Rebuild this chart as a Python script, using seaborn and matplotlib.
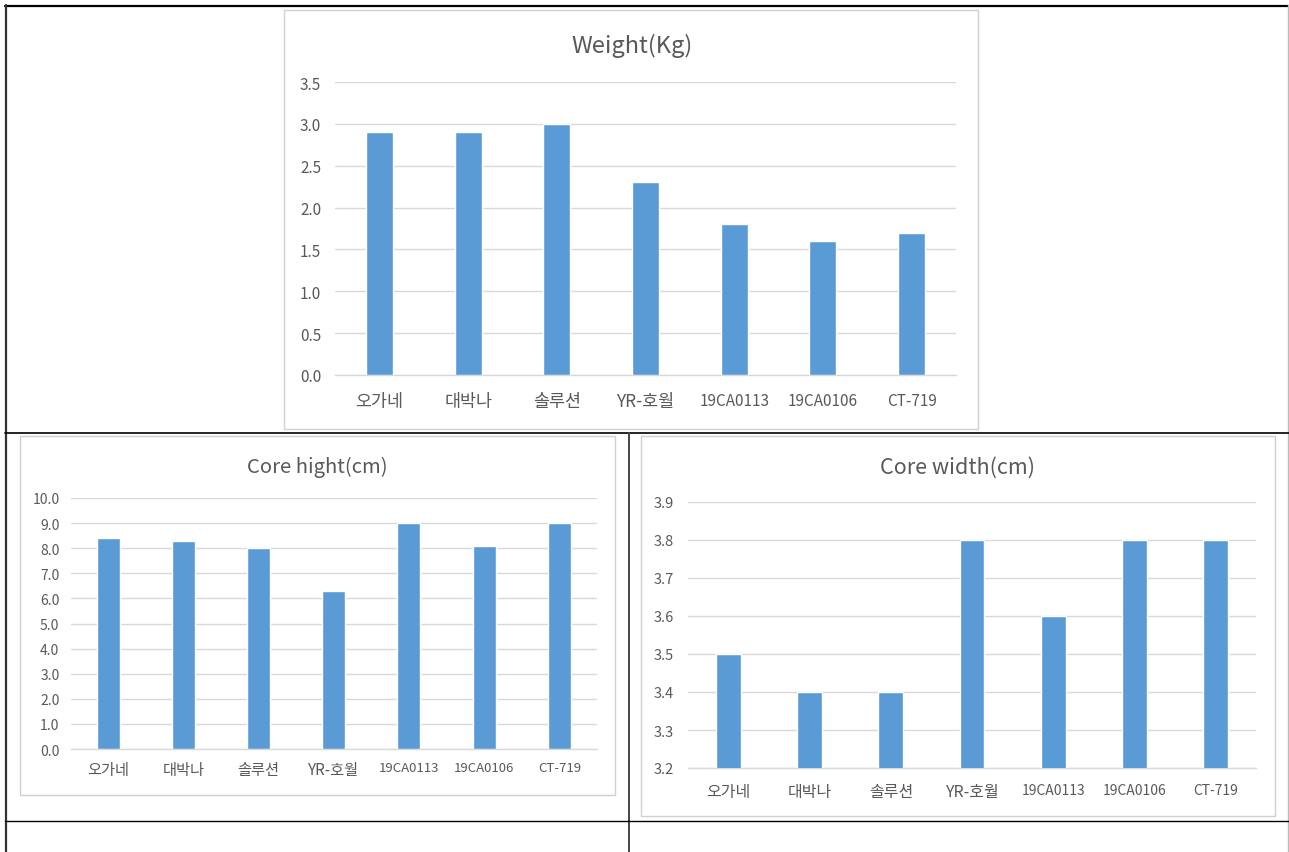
import matplotlib
matplotlib.use("Agg")
import matplotlib.pyplot as plt
from matplotlib.lines import Line2D
from matplotlib.patches import Rectangle
import seaborn as sns
import pandas as pd

# Data
varieties = ["오가네", "대박나", "솔루션", "YR-호월", "19CA0113", "19CA0106", "CT-719"]
weight_kg = [2.9, 2.9, 3.0, 2.3, 1.8, 1.6, 1.7]
core_height_cm = [8.4, 8.3, 8.0, 6.3, 9.0, 8.1, 9.0]
core_width_cm = [3.5, 3.4, 3.4, 3.8, 3.6, 3.8, 3.8]

weight_ticks = [0.0, 0.5, 1.0, 1.5, 2.0, 2.5, 3.0, 3.5]
height_ticks = [0.0, 1.0, 2.0, 3.0, 4.0, 5.0, 6.0, 7.0, 8.0, 9.0, 10.0]
width_ticks = [3.2, 3.3, 3.4, 3.5, 3.6, 3.7, 3.8, 3.9]

sns.set_theme(style="white")
plt.rcParams["font.family"] = ["Noto Sans CJK KR", "DejaVu Sans"]

W, H = 1289, 853
fig = plt.figure(figsize=(W / 100, H / 100), dpi=100)
fig.patch.set_facecolor("white")

BAR = "#5B9BD5"
GRID = "#D9D9D9"
TEXT = "#595959"


def px_rect(x0, y0, x1, y1):
    return [x0 / W, 1 - y1 / H, (x1 - x0) / W, (y1 - y0) / H]


def frame(x0, y0, x1, y1):
    fig.add_artist(Rectangle((x0 / W, 1 - y1 / H), (x1 - x0) / W, (y1 - y0) / H,
                             transform=fig.transFigure, facecolor="white",
                             edgecolor="#D0D0D0", lw=1.0, zorder=0))


def hline(y, x0, x1, color="black", lw=1.2):
    fig.add_artist(Line2D([x0 / W, x1 / W], [1 - y / H, 1 - y / H],
                          transform=fig.transFigure, color=color, lw=lw))


def vline(x, y0, y1, color="black", lw=1.2):
    fig.add_artist(Line2D([x / W, x / W], [1 - y0 / H, 1 - y1 / H],
                          transform=fig.transFigure, color=color, lw=lw))


def has_hangul(s):
    return any("\uac00" <= ch <= "\ud7a3" for ch in s)


def bar_panel(box, values, ticks, title, title_xy, title_size,
              latin_size, hangul_size, ytick_size, xpad, ypad):
    ax = fig.add_axes(px_rect(*box))
    ax.set_facecolor("none")
    df = pd.DataFrame({"variety": varieties, "value": values})
    sns.barplot(data=df, x="variety", y="value", color=BAR, saturation=1,
                width=0.305, ax=ax, zorder=3)
    ax.set_ylim(ticks[0], ticks[-1])
    ax.set_xlim(-0.5, len(varieties) - 0.5)
    ax.set_yticks(ticks)
    ax.set_yticklabels([f"{t:.1f}" for t in ticks])
    ax.yaxis.grid(True, color=GRID, lw=1.0, zorder=0)
    ax.xaxis.grid(False)
    for s in ("top", "right", "left"):
        ax.spines[s].set_visible(False)
    ax.spines["bottom"].set_color(GRID)
    ax.spines["bottom"].set_linewidth(1.0)
    ax.tick_params(axis="both", length=0, colors=TEXT)
    ax.tick_params(axis="x", pad=xpad)
    ax.tick_params(axis="y", pad=ypad, labelsize=ytick_size)
    for lab in ax.get_xticklabels():
        lab.set_fontsize(hangul_size if has_hangul(lab.get_text()) else latin_size)
    ax.set_xlabel("")
    ax.set_ylabel("")
    fig.text(title_xy[0] / W, 1 - title_xy[1] / H, title, ha="center",
             va="center", fontsize=title_size, color=TEXT)
    return ax


# Table grid lines
hline(6.5, 5, 1289, lw=1.6)
vline(5.5, 6, 853, color="#333333", lw=1.6)
vline(1288, 6, 853, color="#BBBBBB", lw=1.0)
hline(434, 5, 1289, lw=1.2)
vline(628.5, 434, 853, color="#444444", lw=1.4)
hline(822, 5, 1289, lw=1.0)

# Chart frames
frame(284, 11, 978, 430)
frame(20, 437, 615, 796)
frame(641, 437, 1275, 817)

bar_panel((335, 83, 956, 376), weight_kg, weight_ticks, "Weight(Kg)",
          (632, 46), 17, 11, 12.5, 11, 12, 10)
bar_panel((70.5, 499, 597, 750), core_height_cm, height_ticks, "Core hight(cm)",
          (317, 467), 14.6, 9.5, 11, 10, 9, 8)
bar_panel((688, 503, 1256, 769), core_width_cm, width_ticks, "Core width(cm)",
          (958, 468), 15.5, 10, 11.5, 10.5, 11, 10)

fig.savefig("out.png", dpi=100, facecolor="white")
